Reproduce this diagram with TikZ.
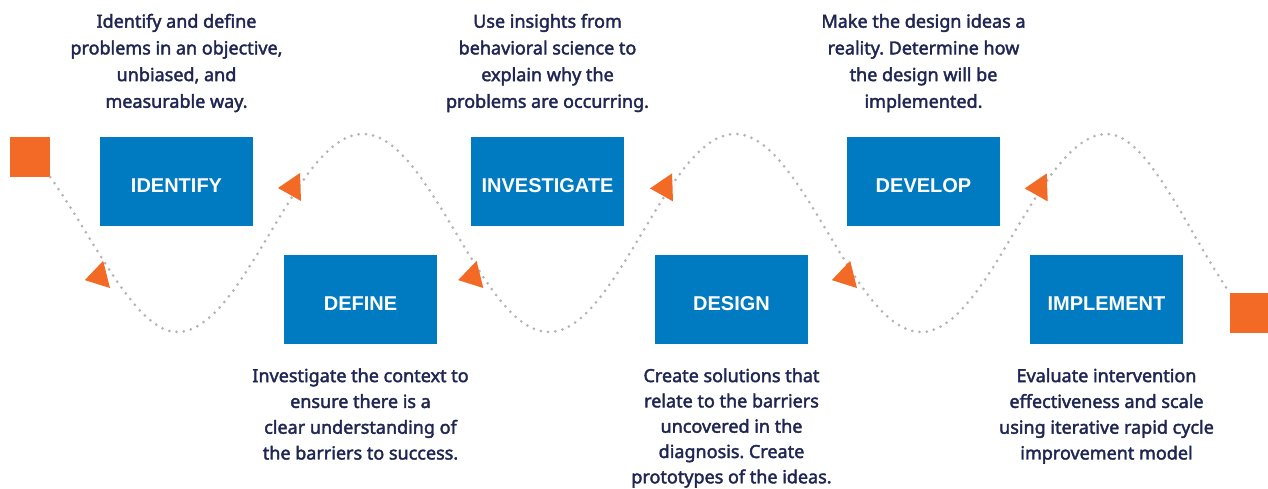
\documentclass[tikz,border=0pt]{standalone}
\usepackage{fontspec}
\setmainfont{Noto Sans}
\newfontfamily\descfont[FakeBold=2.2]{Noto Sans}
\newfontfamily\stagefont{Liberation Sans}
\usetikzlibrary{positioning}
\definecolor{stepblue}{RGB}{0,122,193}
\definecolor{steporange}{RGB}{242,106,37}
\definecolor{stepnavy}{RGB}{31,38,82}
\definecolor{stepgray}{RGB}{180,180,180}
\frenchspacing

\tikzset{
  stage/.style={fill=stepblue, text=white, minimum width=153pt, minimum height=89pt,
    inner sep=0pt, text height=22.3pt, text depth=0pt,
    font=\stagefont\bfseries\fontsize{20}{22}\selectfont},
  desc/.style={text=stepnavy, align=center, inner sep=0pt,
    font=\descfont\fontsize{18}{26.7}\selectfont},
  desclow/.style={desc, font=\descfont\fontsize{18}{25.8}\selectfont},
  endsq/.style={fill=steporange, minimum size=40pt, inner sep=0pt},
  pics/marker/.style={code={\fill[steporange] (-15,-0.7) -- (7,14.3) -- (8,-13.7) -- cycle;}}
}

\begin{document}
\begin{tikzpicture}[x=1pt,y=1pt]
\useasboundingbox (0,0) rectangle (1268,-489);

% End squares
\node[endsq] (start) at (30,-157) {};
\node[endsq] (finish) at (1250,-313) {};

% Wave
\coordinate (t1) at (177,-332);
\coordinate (m1) at (270,-233);
\coordinate (p1) at (363,-134);
\coordinate (m2) at (456,-233);
\coordinate (t2) at (549,-332);
\coordinate (m3) at (642,-233);
\coordinate (p2) at (735,-134);
\coordinate (m4) at (828,-233);
\coordinate (t3) at (921,-332);
\coordinate (m5) at (1014,-233);
\coordinate (p3) at (1107,-134);
\draw[stepgray, line width=3pt, line cap=round, dash pattern=on 0pt off 7.3pt]
  (start.south east) to[out=-54, in=180, out distance=72, in distance=42] (t1)
  cos (m1) sin (p1) cos (m2) sin (t2) cos (m3) sin (p2) cos (m4) sin (t3) cos (m5) sin (p3)
  to[out=0, in=125, out distance=41, in distance=72] (finish.north west);

% Markers
\foreach \x/\y/\r in {99.3/-276.3/12, 293/-187.3/0, 472.7/-276.3/12,
    665/-187.7/0, 846.3/-276.3/12, 1039.7/-187.7/0}
  \pic[rotate=\r] at (\x,\y) {marker};

% Stages
\node[stage] (identify) at (176.5,-181.5) {IDENTIFY};
\node[stage] (define) at (360.5,-299.5) {DEFINE};
\node[stage] (investigate) at (547.5,-181.5) {INVESTIGATE};
\node[stage] (design) at (731.5,-299.5) {DESIGN};
\node[stage] (develop) at (923.5,-181.5) {DEVELOP};
\node[stage] (implement) at (1106.5,-299.5) {IMPLEMENT};

% Descriptions
\node[desc, above=24.5pt of identify] (identifytxt)
  {Identify and define\\problems in an objective,\\unbiased, and\\measurable way.};
\node[desc, above=24.5pt of investigate] (investigatetxt)
  {Use insights from\\behavioral science to\\explain why the\\problems are occurring.};
\node[desc, above=24.5pt of develop] (developtxt)
  {Make the design ideas a\\reality. Determine how\\the design will be\\implemented.};
\node[desclow, below=24pt of define] (definetxt)
  {Investigate the context to\\ensure there is a\\clear understanding of\\the barriers to success.};
\node[desclow, below=24pt of design, font=\descfont\fontsize{18}{25.3}\selectfont] (designtxt)
  {Create solutions that\\relate to the barriers\\uncovered in the\\diagnosis. Create\\prototypes of the ideas.};
\node[desclow, below=24pt of implement] (implementtxt)
  {Evaluate intervention\\effectiveness and scale\\using iterative rapid cycle\\improvement model};
\end{tikzpicture}
\end{document}
